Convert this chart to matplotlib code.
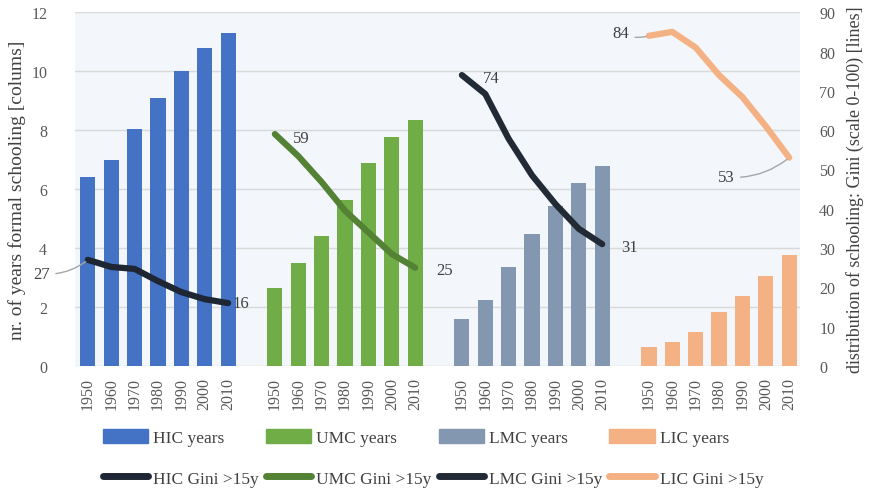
import matplotlib.pyplot as plt
from matplotlib.patches import Patch
from matplotlib.lines import Line2D

plt.rcParams['font.family'] = ['Liberation Serif', 'DejaVu Serif']

years = ['1950', '1960', '1970', '1980', '1990', '2000', '2010']
groups = ['HIC', 'UMC', 'LMC', 'LIC']

# average years of formal schooling (left axis, bars)
hic_years = [6.4, 7.0, 8.03, 9.1, 10.0, 10.8, 11.3]
umc_years = [2.64, 3.49, 4.4, 5.63, 6.88, 7.76, 8.34]
lmc_years = [1.6, 2.24, 3.35, 4.47, 5.42, 6.2, 6.78]
lic_years = [0.64, 0.83, 1.16, 1.84, 2.37, 3.05, 3.76]

# Gini of schooling >15y (right axis, lines)
hic_gini = [27, 25.2, 24.7, 21.6, 18.8, 17.0, 16]
umc_gini = [59, 53.4, 46.8, 39.5, 34, 28.5, 25]
lmc_gini = [74, 69.2, 57.8, 48.5, 41.2, 34.9, 31]
lic_gini = [84, 85, 81, 74, 68.4, 61, 53]

bar_colors = ['#4472C4', '#70AD47', '#8497B0', '#F4B183']
line_colors = ['#1E2533', '#548235', '#222A35', '#F4B183']

all_years = [hic_years, umc_years, lmc_years, lic_years]
all_gini = [hic_gini, umc_gini, lmc_gini, lic_gini]

fig = plt.figure(figsize=(8.74, 4.89), dpi=100)
ax = fig.add_axes([0.0858, 0.2495, 0.8292, 0.7235])
ax2 = ax.twinx()
ax.set_facecolor('#F3F6FA')

tick_pos = []
tick_lab = []
for g in range(4):
    xs = [g * 8 + i for i in range(7)]
    ax.bar(xs, all_years[g], width=0.65, color=bar_colors[g], zorder=2)
    ax2.plot(xs, all_gini[g], color=line_colors[g], lw=4.5,
             solid_capstyle='round', solid_joinstyle='round', zorder=3)
    tick_pos += xs
    tick_lab += years

ax.set_xlim(-0.55, 30.45)
ax.set_ylim(0, 12)
ax2.set_ylim(0, 90)
ax.set_yticks(range(0, 13, 2))
ax2.set_yticks(range(0, 91, 10))
ax.set_xticks(tick_pos)
ax.set_xticklabels(tick_lab, rotation=90, fontsize=10, color='#595959')
ax.grid(axis='y', color='#D9D9D9', lw=1, zorder=0)
ax.set_axisbelow(True)

for a in (ax, ax2):
    for s in a.spines.values():
        s.set_visible(False)
    a.tick_params(length=0, labelsize=11.5, colors='#595959')
ax.tick_params(axis='y', pad=20)
ax2.tick_params(axis='y', pad=14)
ax.tick_params(axis='x', pad=8)

ax.set_ylabel('nr. of years formal schooling [colums]', fontsize=14,
              color='#404040', labelpad=4)
ax2.set_ylabel('distribution of schooling: Gini (scale 0-100) [lines]',
               fontsize=13, color='#404040', labelpad=8)

# data labels
lab_kw = dict(fontsize=12, color='#404040')
leader = dict(arrowstyle='-', color='#A6A6A6', lw=1,
              connectionstyle='arc3,rad=0.2')
ax2.annotate(str(hic_gini[0]), (0, hic_gini[0]), xytext=(-33, -10),
             textcoords='offset points', ha='center', va='center',
             arrowprops=leader, **lab_kw)
ax2.annotate(str(hic_gini[-1]), (6, hic_gini[-1]), xytext=(9, 0),
             textcoords='offset points', ha='center', va='center', **lab_kw)
ax2.annotate(str(umc_gini[0]), (8, umc_gini[0]), xytext=(19, -3),
             textcoords='offset points', ha='center', va='center', **lab_kw)
ax2.annotate(str(umc_gini[-1]), (14, umc_gini[-1]), xytext=(21, -2),
             textcoords='offset points', ha='center', va='center', **lab_kw)
ax2.annotate(str(lmc_gini[0]), (16, lmc_gini[0]), xytext=(21, -2),
             textcoords='offset points', ha='center', va='center', **lab_kw)
ax2.annotate(str(lmc_gini[-1]), (22, lmc_gini[-1]), xytext=(20, -2),
             textcoords='offset points', ha='center', va='center', **lab_kw)
ax2.annotate(str(lic_gini[0]), (24, lic_gini[0]), xytext=(-20, 2),
             textcoords='offset points', ha='center', va='center',
             arrowprops=leader, **lab_kw)
ax2.annotate(str(lic_gini[-1]), (30, lic_gini[-1]), xytext=(-45, -14),
             textcoords='offset points', ha='center', va='center',
             arrowprops=leader, **lab_kw)

handles = []
labels = []
for g in range(4):
    handles.append(Patch(color=bar_colors[g]))
    labels.append(groups[g] + ' years')
    handles.append(Line2D([0], [0], color=line_colors[g], lw=5,
                          solid_capstyle='round'))
    labels.append(groups[g] + ' Gini >15y')

fig.legend(handles, labels, ncol=4, loc='lower left',
           bbox_to_anchor=(0.100, -0.029), frameon=False, fontsize=12.5,
           handlelength=2.6, handleheight=0.9, handletextpad=0.3,
           columnspacing=0.4, labelspacing=1.35, labelcolor='#404040')

fig.savefig('out.png', dpi=100, facecolor='white')
